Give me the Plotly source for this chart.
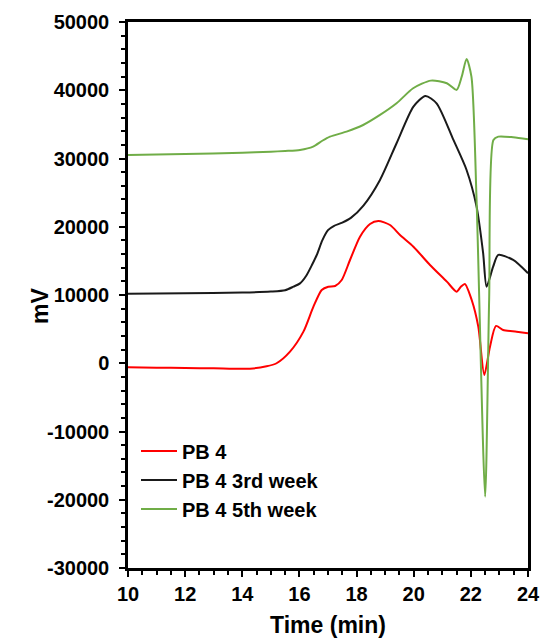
import plotly.graph_objects as go

# PB 4
time_red = [10, 11, 12, 13, 14.27, 14.85, 15.2, 15.67, 16.14, 16.49, 16.78, 17.01, 17.25, 17.48,
            17.77, 18.12, 18.47, 18.76, 19.17, 19.52, 19.99, 20.57, 21.16, 21.5, 21.65, 21.79,
            22.03, 22.26, 22.47, 22.67, 22.88, 23.13, 23.6, 24]
mv_red = [-600, -650, -700, -750, -800, -450, 0, 1700, 4630, 8290, 10740, 11220, 11320, 12200,
          15130, 18550, 20410, 20850, 20260, 18800, 17080, 14400, 11960, 10490, 11200, 11620,
          9270, 5360, -1710, 2430, 5470, 4880, 4630, 4400]

# PB 4 3rd week
time_black = [10, 12, 14, 15, 15.5, 15.79, 16.02, 16.25, 16.45, 16.62, 16.8, 17.0, 17.2, 17.5,
              17.8, 18.24, 18.82, 19.4, 19.99, 20.41, 20.8, 21.39, 21.85, 22.2, 22.43, 22.55,
              22.78, 22.96, 23.48, 24]
mv_black = [10200, 10250, 10350, 10500, 10700, 11220, 11700, 12900, 14500, 16000, 18000, 19500,
            20100, 20600, 21300, 23100, 26860, 32230, 37600, 39160, 38090, 32720, 28320, 22950,
            16120, 11220, 14150, 15870, 15140, 13190]

# PB 4 5th week
time_green = [10, 12, 14, 15, 15.5, 16.02, 16.48, 16.8, 17.07, 17.65, 18.23, 18.82, 19.4, 19.98,
              20.6, 21.16, 21.5, 21.68, 21.85, 22.02, 22.2, 22.5, 22.64, 22.79, 22.96, 23.48, 24]
mv_green = [30500, 30650, 30850, 31000, 31100, 31250, 31740, 32600, 33200, 33940, 34910, 36380,
            38090, 40290, 41410, 41030, 40050, 41990, 44590, 41990, 23930, -19550, 9300, 32700,
            33200, 33110, 32820]

names = ["PB 4", "PB 4 3rd week", "PB 4 5th week"]
colors = ["#ff0000", "#1a1a1a", "#70ad47"]

x_ticks = [10, 12, 14, 16, 18, 20, 22, 24]
y_ticks = [-30000, -20000, -10000, 0, 10000, 20000, 30000, 40000, 50000]
y_tick_text = ["-30000", "-20000", "-10000", "0", "10000", "20000", "30000", "40000", "50000"]

FONT = "Arial, 'Liberation Sans', sans-serif"

fig = go.Figure()
for t, v, n, c in [(time_red, mv_red, names[0], colors[0]),
                   (time_black, mv_black, names[1], colors[1]),
                   (time_green, mv_green, names[2], colors[2])]:
    fig.add_trace(go.Scatter(x=t, y=v, name=n, mode="lines",
                             line=dict(color=c, width=2, shape="spline", smoothing=0.7)))

axis_common = dict(
    showgrid=False, zeroline=False, showline=True, linecolor="black", linewidth=2.5,
    mirror=True, ticks="outside", ticklen=6, tickwidth=2, tickcolor="black", automargin=False,
    tickfont=dict(family=FONT, size=20, color="black", weight="bold"),
)

fig.update_xaxes(range=[10, 24], tickmode="array", tickvals=x_ticks,
                 ticktext=[str(v) for v in x_ticks],
                 minor=dict(ticks="outside", ticklen=4, tickwidth=1.5, dtick=0.5, tickcolor="black"),
                 title=dict(text="Time (min)", font=dict(family=FONT, size=23, color="black", weight="bold"),
                            standoff=14),
                 **axis_common)
fig.update_yaxes(range=[-30000, 50000], tickmode="array", tickvals=y_ticks, ticktext=y_tick_text,
                 minor=dict(ticks="outside", ticklen=4, tickwidth=1.5, tick0=-30000, dtick=2000,
                            tickcolor="black"),
                 ticklabelstandoff=6,
                 **axis_common)

fig.add_annotation(text="mV", xref="paper", yref="paper", x=-0.22, y=0.48,
                   xanchor="center", yanchor="middle", textangle=-90, showarrow=False,
                   font=dict(family=FONT, size=23, color="black", weight="bold"))

fig.update_layout(
    width=542, height=643,
    margin=dict(l=128, r=14, t=22, b=75),
    paper_bgcolor="white", plot_bgcolor="white",
    showlegend=True,
    legend=dict(x=0.02, y=0.25, xanchor="left", yanchor="top",
                bgcolor="rgba(0,0,0,0)", borderwidth=0,
                font=dict(family=FONT, size=20, color="black", weight="bold"),
                itemwidth=36, tracegroupgap=0),
)

fig.write_html("out.html")
